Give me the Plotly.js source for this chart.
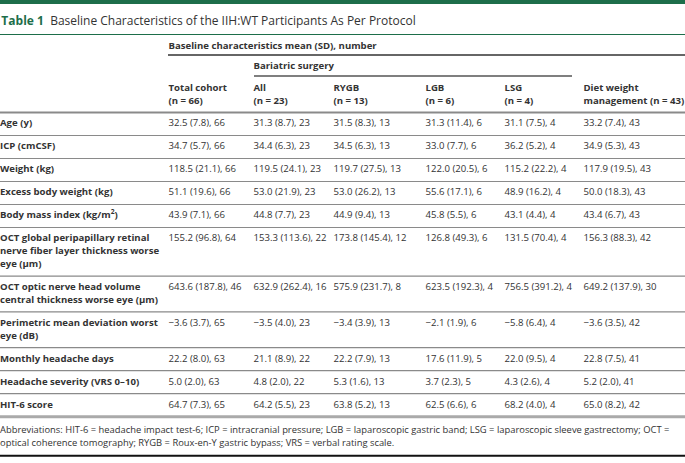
<!DOCTYPE html>
<html><head><meta charset="utf-8">
<script src="https://cdn.plot.ly/plotly-3.0.1.min.js"></script>
<style>html,body{margin:0;padding:0;background:#fff}#chart{width:685px;height:463px}</style>
</head><body><div id="chart"></div>
<script>
// ---- data ----
const tableTitle = "Baseline Characteristics of the IIH:WT Participants As Per Protocol";
const tableLabel = "Table 1";
const spanHeader = "Baseline characteristics mean (SD), number";
const groupHeader = "Bariatric surgery";
const columnHeaders = ["Total cohort<br>(n = 66)", "All<br>(n = 23)", "RYGB<br>(n = 13)", "LGB<br>(n = 6)", "LSG<br>(n = 4)", "Diet weight<br>management (n = 43)"];
const rowLabels = ["Age (y)", "ICP (cmCSF)", "Weight (kg)", "Excess body weight (kg)", "Body mass index (kg/m<sup>2</sup>)",
  "OCT global peripapillary retinal<br>nerve fiber layer thickness worse<br>eye (µm)",
  "OCT optic nerve head volume<br>central thickness worse eye (µm)",
  "Perimetric mean deviation worst<br>eye (dB)", "Monthly headache days", "Headache severity (VRS 0–10)", "HIT-6 score"];
const totalCohort = ["32.5 (7.8), 66","34.7 (5.7), 66","118.5 (21.1), 66","51.1 (19.6), 66","43.9 (7.1), 66","155.2 (96.8), 64","643.6 (187.8), 46","−3.6 (3.7), 65","22.2 (8.0), 63","5.0 (2.0), 63","64.7 (7.3), 65"];
const bariatricAll = ["31.3 (8.7), 23","34.4 (6.3), 23","119.5 (24.1), 23","53.0 (21.9), 23","44.8 (7.7), 23","153.3 (113.6), 22","632.9 (262.4), 16","−3.5 (4.0), 23","21.1 (8.9), 22","4.8 (2.0), 22","64.2 (5.5), 23"];
const rygb = ["31.5 (8.3), 13","34.5 (6.3), 13","119.7 (27.5), 13","53.0 (26.2), 13","44.9 (9.4), 13","173.8 (145.4), 12","575.9 (231.7), 8","−3.4 (3.9), 13","22.2 (7.9), 13","5.3 (1.6), 13","63.8 (5.2), 13"];
const lgb = ["31.3 (11.4), 6","33.0 (7.7), 6","122.0 (20.5), 6","55.6 (17.1), 6","45.8 (5.5), 6","126.8 (49.3), 6","623.5 (192.3), 4","−2.1 (1.9), 6","17.6 (11.9), 5","3.7 (2.3), 5","62.5 (6.6), 6"];
const lsg = ["31.1 (7.5), 4","36.2 (5.2), 4","115.2 (22.2), 4","48.9 (16.2), 4","43.1 (4.4), 4","131.5 (70.4), 4","756.5 (391.2), 4","−5.8 (6.4), 4","22.0 (9.5), 4","4.3 (2.6), 4","68.2 (4.0), 4"];
const diet = ["33.2 (7.4), 43","34.9 (5.3), 43","117.9 (19.5), 43","50.0 (18.3), 43","43.4 (6.7), 43","156.3 (88.3), 42","649.2 (137.9), 30","−3.6 (3.5), 42","22.8 (7.5), 41","5.2 (2.0), 41","65.0 (8.2), 42"];
const footnote = "Abbreviations: HIT-6 = headache impact test-6; ICP = intracranial pressure; LGB = laparoscopic gastric band; LSG = laparoscopic sleeve gastrectomy; OCT =<br>optical coherence tomography; RYGB = Roux-en-Y gastric bypass; VRS = verbal rating scale.";

// ---- layout config ----
const W = 685, H = 463;
const colX = [0, 168.5, 253.5, 333.5, 425.5, 504.5, 583.5];
const FONT = "Open Sans";
const TXT = "#333333";
const GREEN = "#1d6e4a";
const FS = 9.6, FOOT_FS = 9.4;
const LINE = 12.8, PAD = 10.2;
const headerSepY = 112.5;

const valueCols = [totalCohort, bariatricAll, rygb, lgb, lsg, diet];

// compute row geometry
const rowFirst = [];
let y = headerSepY;
const seps = [];
rowLabels.forEach((lab) => {
  const n = lab.split("<br>").length;
  rowFirst.push(y + PAD / 2 + LINE / 2);
  y += PAD + n * LINE;
  seps.push(y);
});

const traces = [];
function textTrace(xs, ys, texts, bold, size) {
  return {
    type: "scatter", mode: "text", x: xs, y: ys,
    text: texts.map(t => bold ? "<b>" + t + "</b>" : t),
    textposition: "middle right",
    textfont: { family: FONT, size: size || FS, color: TXT },
    hoverinfo: "skip", showlegend: false, cliponaxis: false
  };
}
// labels, split lines
const lx = [], ly = [], lt = [];
rowLabels.forEach((lab, i) => {
  lab.split("<br>").forEach((ln, k) => { lx.push(colX[0]); ly.push(rowFirst[i] + k * LINE); lt.push(ln); });
});
traces.push(textTrace(lx, ly, lt, true));
// value columns
valueCols.forEach((col, c) => {
  traces.push(textTrace(col.map(() => colX[c + 1]), rowFirst, col, false));
});
// column headers
const hx = [], hy = [], ht = [];
columnHeaders.forEach((h, c) => {
  h.split("<br>").forEach((ln, k) => { hx.push(colX[c + 1]); hy.push(88.5 + k * LINE); ht.push(ln); });
});
hx.push(colX[1]); hy.push(46.5); ht.push(spanHeader);
hx.push(colX[2]); hy.push(66.5); ht.push(groupHeader);
traces.push(textTrace(hx, hy, ht, true));
// footnote
const fLines = footnote.split("<br>");
const lastSep = seps[seps.length - 1];
traces.push(textTrace(fLines.map(() => colX[0]), fLines.map((_, k) => lastSep + 14 + k * 12.6), fLines, false, FOOT_FS));

const shapes = [];
function hline(x0, x1, yy, color, width) {
  shapes.push({ type: "line", xref: "x", yref: "y", x0: x0, x1: x1, y0: yy, y1: yy, line: { color: color, width: width } });
}
shapes.push({ type: "rect", xref: "x", yref: "y", x0: 0, x1: W, y0: 0, y1: 4, fillcolor: GREEN, line: { width: 0 } });
hline(0, W, 34.5, GREEN, 1);
hline(168, W, 55, "#666666", 2);
hline(254, 572, 76, "#555555", 1.5);
hline(0, W, headerSepY, "#8a8a8a", 2);
seps.forEach((s, i) => {
  if (i === seps.length - 1) hline(0, W, s, "#aaaaaa", 3);
  else hline(0, W, s, "#8a8a8a", 1.2);
});
hline(0, W, lastSep + 39, "#111111", 2);

const layout = {
  width: W, height: H,
  margin: { l: 0, r: 0, t: 0, b: 0 },
  paper_bgcolor: "#fff", plot_bgcolor: "#fff",
  title: {
    text: '<b><span style="color:' + GREEN + '">' + tableLabel + '</span></b>  ' + tableTitle,
    x: 0.002, xanchor: "left", xref: "paper", y: 1 - 20.5 / H, yanchor: "middle", yref: "container",
    font: { family: FONT, size: 12, color: "#333333" }, pad: { l: 0, t: 0, b: 0, r: 0 }
  },
  xaxis: { range: [0, W], visible: false, fixedrange: true },
  yaxis: { range: [H, 0], visible: false, fixedrange: true },
  shapes: shapes,
  showlegend: false
};
Plotly.newPlot("chart", traces, layout, { staticPlot: true, displayModeBar: false });
</script></body></html>
